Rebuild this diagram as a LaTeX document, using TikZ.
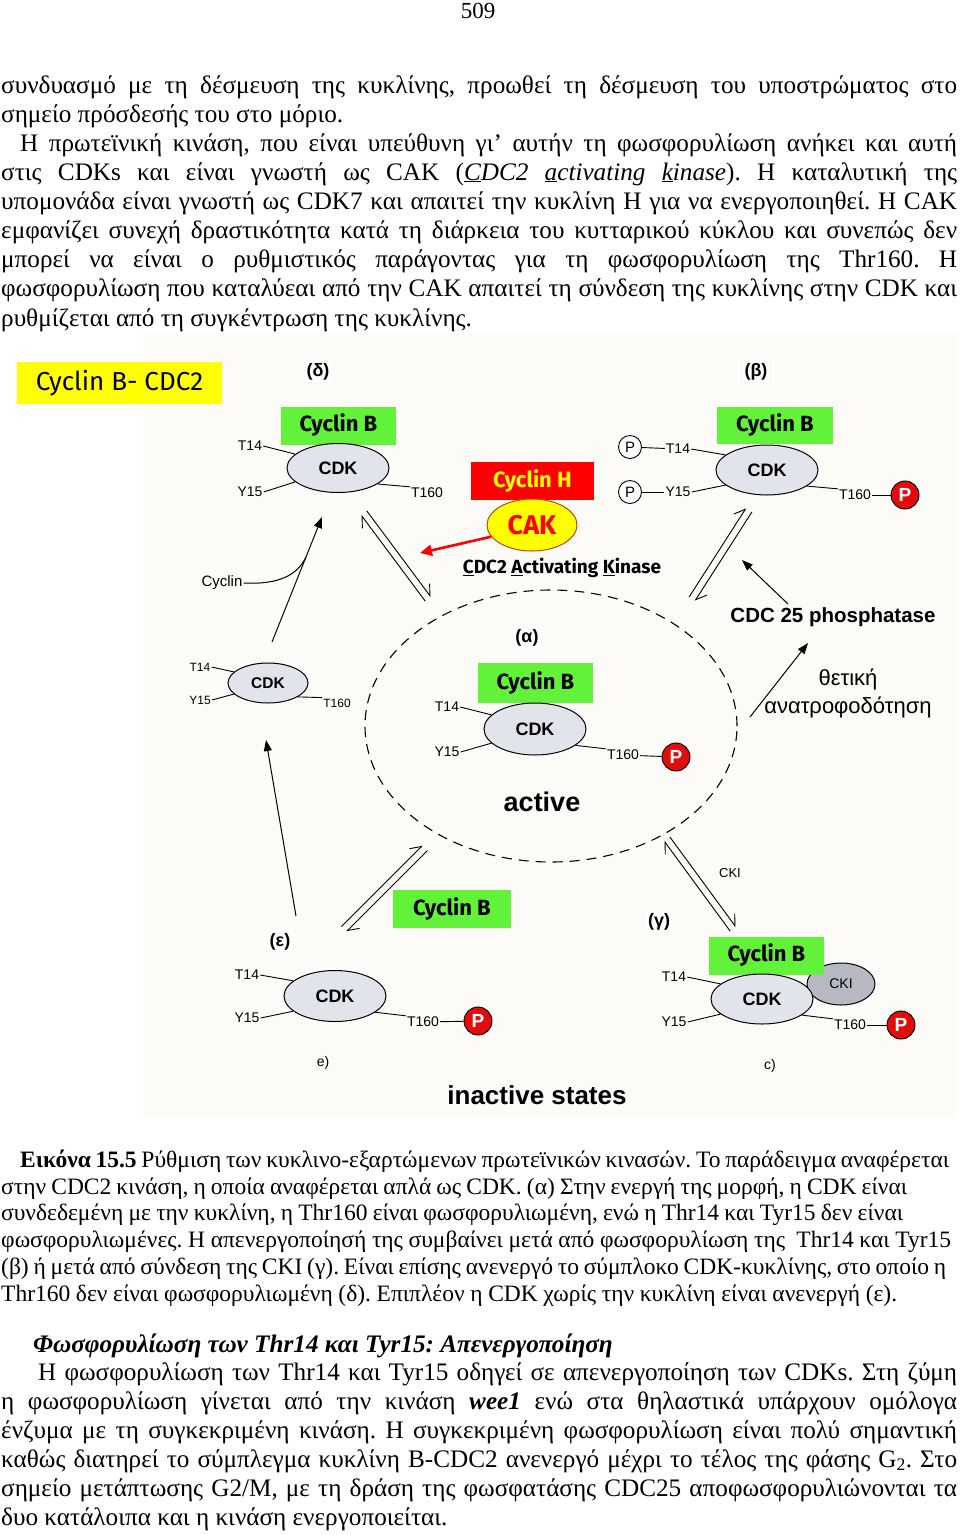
\documentclass[tikz,border=0pt]{standalone}
\usepackage{fontspec}
\usepackage{graphicx}
\setmainfont{Liberation Serif}
\newfontfamily\arialf{Liberation Sans}
\newfontfamily\comicf{Fira Sans}
\usetikzlibrary{arrows.meta,calc,shapes.geometric}
\frenchspacing
\definecolor{bgc}{RGB}{252,251,248}
\definecolor{cgreen}{RGB}{98,242,58}
\definecolor{cyel}{RGB}{255,255,0}
\definecolor{cred}{RGB}{255,0,0}
\definecolor{pred}{RGB}{226,12,12}
\definecolor{cdkfill}{RGB}{226,228,236}
\definecolor{ckifill}{RGB}{182,184,194}
\definecolor{cakbd}{RGB}{190,70,30}
\newcommand\jline[5]{\node[txt] (#1) at (#2,#3) {\makebox[#4pt][s]{\spaceskip=0.25em plus 3em minus 0.12em #5}};}
\newcommand\nline[4]{\node[txt] (#1) at (#2,#3) {#4};}
\newcommand\eqarr[2]{%
  \draw[eqline] ($(#1)!3.5pt!90:(#2)$) -- ($(#2)!3.5pt!-90:(#1)$);
  \draw[eqline] ($(#2)!3.5pt!90:(#1)$) -- ($(#1)!3.5pt!-90:(#2)$);}
\tikzset{
  txt/.style={anchor=base west, inner sep=0pt},
  bodytxt/.style={font=\fontsize{25.2}{29}\selectfont},
  captxt/.style={font=\fontsize{23.5}{26.7}\selectfont},
  cdk/.style={ellipse, draw, line width=1pt, fill=cdkfill, minimum width=102pt, minimum height=49pt, inner sep=0pt, font=\arialf\bfseries\fontsize{18}{18}\selectfont},
  cdksm/.style={cdk, minimum width=80pt, minimum height=40pt, font=\arialf\bfseries\fontsize{15.5}{15.5}\selectfont},
  cycb/.style={fill=cgreen, minimum width=115pt, minimum height=38pt, inner sep=0pt, font=\comicf\bfseries\fontsize{22}{22}\selectfont},
  site/.style={inner sep=1pt, font=\arialf\fontsize{14}{14}\selectfont},
  sitesm/.style={inner sep=1pt, font=\arialf\fontsize{12}{12}\selectfont},
  sitetick/.style={line width=0.9pt},
  pdot/.style={circle, draw, line width=0.9pt, fill=pred, text=white, minimum size=28pt, inner sep=0pt, font=\arialf\bfseries\fontsize{19}{19}\selectfont},
  popen/.style={circle, draw, line width=0.9pt, fill=white, minimum size=23pt, inner sep=0pt, font=\arialf\fontsize{15}{15}\selectfont},
  glab/.style={fill=white, inner sep=2pt, font=\arialf\bfseries\fontsize{18}{18}\selectfont},
  eqline/.style={line width=0.9pt, -{Straight Barb[harpoon,length=10pt,width=14pt]}},
  arr/.style={line width=1pt, -{Triangle[length=11pt,width=8pt]}},
  redarr/.style={line width=2.6pt, draw=cred, -{Triangle[length=12pt,width=11pt]}},
  plain/.style={inner sep=1pt, font=\arialf\fontsize{14}{14}\selectfont},
}
\begin{document}
\begin{tikzpicture}[x=1pt,y=-1pt]
\useasboundingbox (0,0) rectangle (960,1535);
\fill[white] (0,0) rectangle (960,1535);
\fill[bgc] (143,333) rectangle (957,1118);

% ---------- page text ----------
\node[anchor=base, inner sep=0pt, font=\fontsize{23}{23}\selectfont] (pgno) at (478,18) {509};
\begin{scope}[every node/.append style={bodytxt}]
\jline{b1}{1}{93}{956}{συνδυασμό με τη δέσμευση της κυκλίνης, προωθεί τη δέσμευση του υποστρώματος στο}
\nline{b2}{1}{122}{σημείο πρόσδεσής του στο μόριο.}
\jline{b3}{20}{151}{937}{Η πρωτεϊνική κινάση, που είναι υπεύθυνη γι’ αυτήν τη φωσφορυλίωση ανήκει και αυτή}
\jline{b4}{1}{180}{956}{στις CDKs και είναι γνωστή ως CAK (\textit{\underline{C}DC2 \underline{a}ctivating \underline{k}inase}). Η καταλυτική της}
\jline{b5}{1}{209}{956}{υπομονάδα είναι γνωστή ως CDK7 και απαιτεί την κυκλίνη Η για να ενεργοποιηθεί. Η CAK}
\jline{b6}{1}{238}{956}{εμφανίζει συνεχή δραστικότητα κατά τη διάρκεια του κυτταρικού κύκλου και συνεπώς δεν}
\jline{b7}{1}{267}{956}{μπορεί να είναι ο ρυθμιστικός παράγοντας για τη φωσφορυλίωση της Thr160. Η}
\jline{b8}{1}{296}{956}{φωσφορυλίωση που καταλύεαι από την CAK απαιτεί τη σύνδεση της κυκλίνης στην CDK και}
\nline{b9}{1}{326}{ρυθμίζεται από τη συγκέντρωση της κυκλίνης.}
\nline{h1}{33}{1352}{\bfseries\itshape Φωσφορυλίωση των Thr14 και Tyr15: Απενεργοποίηση}
\jline{p1}{38}{1380}{919}{Η φωσφορυλίωση των Thr14 και Tyr15 οδηγεί σε απενεργοποίηση των CDKs. Στη ζύμη}
\jline{p2}{1}{1409}{956}{η φωσφορυλίωση γίνεται από την κινάση \textbf{\textit{wee1}} ενώ στα θηλαστικά υπάρχουν ομόλογα}
\jline{p3}{1}{1438}{956}{ένζυμα με τη συγκεκριμένη κινάση. Η συγκεκριμένη φωσφορυλίωση είναι πολύ σημαντική}
\jline{p4}{1}{1467}{956}{καθώς διατηρεί το σύμπλεγμα κυκλίνη B-CDC2 ανενεργό μέχρι το τέλος της φάσης G\textsubscript{2}. Στο}
\jline{p5}{1}{1496}{956}{σημείο μετάπτωσης G2/M, με τη δράση της φωσφατάσης CDC25 αποφωσφορυλιώνονται τα}
\nline{p6}{1}{1525}{δυο κατάλοιπα και η κινάση ενεργοποιείται.}
\end{scope}
\begin{scope}[every node/.append style={captxt}]
\jline{c1}{20}{1167}{929}{\textbf{Εικόνα 15.5} Ρύθμιση των κυκλινο-εξαρτώμενων πρωτεϊνικών κινασών. Το παράδειγμα αναφέρεται}
\jline{c2}{1}{1194}{906}{στην CDC2 κινάση, η οποία αναφέρεται απλά ως CDK. (α) Στην ενεργή της μορφή, η CDK είναι}
\jline{c3}{1}{1220}{902}{συνδεδεμένη με την κυκλίνη, η Thr160 είναι φωσφορυλιωμένη, ενώ η Thr14 και Tyr15 δεν είναι}
\jline{c4}{1}{1247}{950}{φωσφορυλιωμένες. Η απενεργοποίησή της συμβαίνει μετά από φωσφορυλίωση της \ Thr14 και Tyr15}
\jline{c5}{1}{1274}{945}{(β) ή μετά από σύνδεση της CKI (γ). Είναι επίσης ανενεργό το σύμπλοκο CDK-κυκλίνης, στο οποίο η}
\jline{c6}{1}{1301}{896}{Thr160 δεν είναι φωσφορυλιωμένη (δ). Επιπλέον η CDK χωρίς την κυκλίνη είναι ανενεργή (ε).}
\end{scope}

% ---------- diagram ----------
\node[fill=cyel, minimum width=205pt, minimum height=42pt, inner sep=0pt, font=\comicf\fontsize{26}{26}\selectfont] (title) at (119.5,383) {Cyclin B- CDC2};

\node[ellipse, draw, dash pattern=on 10pt off 7pt, line width=1.1pt, minimum width=372pt, minimum height=272pt] (act) at (551,726) {};

\node[glab] (lbl-d) at (318,372) {(δ)};
\node[glab] (lbl-b) at (756,372) {(β)};
\node[glab] (lbl-a) at (527,638) {(α)};
\node[glab] (lbl-g) at (659,922) {(γ)};
\node[glab] (lbl-e) at (280,942) {(ε)};

% delta complex
\node[cycb] (d-cyc) at (338.5,425.5) {Cyclin B};
\node[cdk] (d-cdk) at (338,468) {CDK};
\node[site] (d-t14) at (250,446) {T14};
\node[site] (d-y15) at (250,492) {Y15};
\node[site] (d-t160) at (427,493) {T160};
\draw[sitetick] (d-t14.east) -- (d-cdk.162);
\draw[sitetick] (d-y15.east) -- (d-cdk.198);
\draw[sitetick] (d-cdk.-22) -- (d-t160.160);

% CAK
\node[fill=cred, minimum width=123pt, minimum height=38pt, inner sep=0pt, text=cyel, font=\comicf\bfseries\fontsize{22}{22}\selectfont] (cych) at (532.5,481) {Cyclin H};
\node[ellipse, draw=cakbd, line width=1pt, fill=cyel, minimum width=90pt, minimum height=52pt, inner sep=0pt, text=cred, font=\comicf\bfseries\fontsize{27}{27}\selectfont] (cak) at (532,525) {CAK};
\node[inner sep=0pt, font=\comicf\bfseries\fontsize{19}{19}\selectfont] (cakname) at (562,568) {\underline{C}DC2 \underline{A}ctivating \underline{K}inase};
\coordinate (cak-t) at (420,553);
\draw[redarr] (cak.196) -- (cak-t);

% beta complex
\node[cycb, minimum width=116pt, minimum height=37pt] (b-cyc) at (775,425.5) {Cyclin B};
\node[cdk, minimum height=50pt] (b-cdk) at (767,470) {CDK};
\node[site] (b-t14) at (678,449) {T14};
\node[site] (b-y15) at (678,492) {Y15};
\node[site] (b-t160) at (855,495) {T160};
\node[popen] (b-p14) at (630,447) {P};
\node[popen] (b-p15) at (630,492) {P};
\node[pdot] (b-p) at (905,495) {P};
\draw[sitetick] (b-t14.east) -- (b-cdk.160);
\draw[sitetick] (b-y15.east) -- (b-cdk.200);
\draw[sitetick] (b-cdk.-22) -- (b-t160.160);
\draw[sitetick] (b-p14) -- (b-t14);
\draw[sitetick] (b-p15) -- (b-y15);
\draw[sitetick] (b-t160) -- (b-p);
\node[inner sep=0pt, font=\arialf\bfseries\fontsize{20.5}{20.5}\selectfont] (cdc25) at (833,617) {CDC 25 phosphatase};
\coordinate (cdc-s) at (788,604);
\coordinate (cdc-e) at (742,560);
\draw[arr] (cdc-s) -- (cdc-e);

% feedback
\node[inner sep=0pt, align=center, font=\arialf\fontsize{22}{28}\selectfont] (fb) at (848,693) {θετική\\ανατροφοδότηση};
\coordinate (fb-s) at (750,717);
\coordinate (fb-e) at (808,643);
\draw[arr] (fb-s) -- (fb-e);

% alpha complex
\node[cycb, minimum height=40pt] (a-cyc) at (535.5,683) {Cyclin B};
\node[cdk, minimum height=52pt] (a-cdk) at (535,729) {CDK};
\node[site] (a-t14) at (447,707) {T14};
\node[site] (a-y15) at (447,752) {Y15};
\node[site] (a-t160) at (623,755) {T160};
\node[pdot] (a-p) at (676,757) {P};
\draw[sitetick] (a-t14.east) -- (a-cdk.162);
\draw[sitetick] (a-y15.east) -- (a-cdk.198);
\draw[sitetick] (a-cdk.-22) -- (a-t160.160);
\draw[sitetick] (a-t160) -- (a-p);
\node[inner sep=0pt, font=\arialf\bfseries\fontsize{27}{27}\selectfont] (active) at (542,802) {active};

% free CDK
\node[cdksm] (f-cdk) at (268,683) {CDK};
\node[sitesm] (f-t14) at (200,667) {T14};
\node[sitesm] (f-y15) at (200,700) {Y15};
\node[sitesm] (f-t160) at (337,703) {T160};
\draw[sitetick] (f-t14.east) -- (f-cdk.162);
\draw[sitetick] (f-y15.east) -- (f-cdk.198);
\draw[sitetick] (f-cdk.-25) -- (f-t160.160);

% cyclin arrow
\coordinate (cu-s) at (272,642);
\coordinate (cu-e) at (322,517);
\draw[arr] (cu-s) -- (cu-e);
\node[inner sep=1pt, font=\arialf\fontsize{15}{15}\selectfont] (cyclinlab) at (222,583) {Cyclin};
\coordinate (cu-j) at (306,557);
\draw[line width=1pt] (cyclinlab.east) .. controls (280,585) and (298,574) .. (cu-j);

% epsilon complex
\node[cycb, minimum width=118pt] (e-cyc) at (452,909) {Cyclin B};
\node[cdk, minimum height=51pt] (e-cdk) at (335,996) {CDK};
\node[site] (e-t14) at (247,975) {T14};
\node[site] (e-y15) at (247,1018) {Y15};
\node[site] (e-t160) at (423,1022) {T160};
\node[pdot] (e-p) at (478,1021) {P};
\draw[sitetick] (e-t14.east) -- (e-cdk.160);
\draw[sitetick] (e-y15.east) -- (e-cdk.200);
\draw[sitetick] (e-cdk.-22) -- (e-t160.160);
\draw[sitetick] (e-t160) -- (e-p);
\node[plain] (e-lab) at (323,1063) {e)};
\coordinate (eu-s) at (296,916);
\coordinate (eu-e) at (266,740);
\draw[arr] (eu-s) -- (eu-e);

% gamma complex
\node[ellipse, draw, line width=1pt, fill=ckifill, minimum width=68pt, minimum height=42pt, inner sep=0pt, font=\arialf\fontsize{14}{14}\selectfont] (g-cki) at (841,984) {CKI};
\node[cycb] (g-cyc) at (766.5,955.5) {Cyclin B};
\node[cdk, minimum height=50pt] (g-cdk) at (762,999) {CDK};
\node[site] (g-t14) at (674,977) {T14};
\node[site] (g-y15) at (674,1022) {Y15};
\node[site] (g-t160) at (850,1025) {T160};
\node[pdot] (g-p) at (901,1025) {P};
\draw[sitetick] (g-t14.east) -- (g-cdk.160);
\draw[sitetick] (g-y15.east) -- (g-cdk.200);
\draw[sitetick] (g-cdk.-22) -- (g-t160.160);
\draw[sitetick] (g-t160) -- (g-p);
\node[plain] (g-lab) at (770,1066) {c)};
\node[plain, font=\arialf\fontsize{13}{13}\selectfont] (ckilab) at (730,873) {CKI};

% equilibrium arrows
\coordinate (eq1a) at (364,513);
\coordinate (eq1b) at (428,599);
\coordinate (eq2a) at (749,510);
\coordinate (eq2b) at (692,599);
\coordinate (eq3a) at (344,929);
\coordinate (eq3b) at (425,848);
\coordinate (eq4a) at (667,839);
\coordinate (eq4b) at (733,929);
\eqarr{eq1a}{eq1b}
\eqarr{eq2a}{eq2b}
\eqarr{eq3a}{eq3b}
\eqarr{eq4a}{eq4b}

\node[inner sep=0pt, font=\arialf\bfseries\fontsize{26}{26}\selectfont] (inact) at (537,1095) {inactive states};
\end{tikzpicture}
\end{document}
